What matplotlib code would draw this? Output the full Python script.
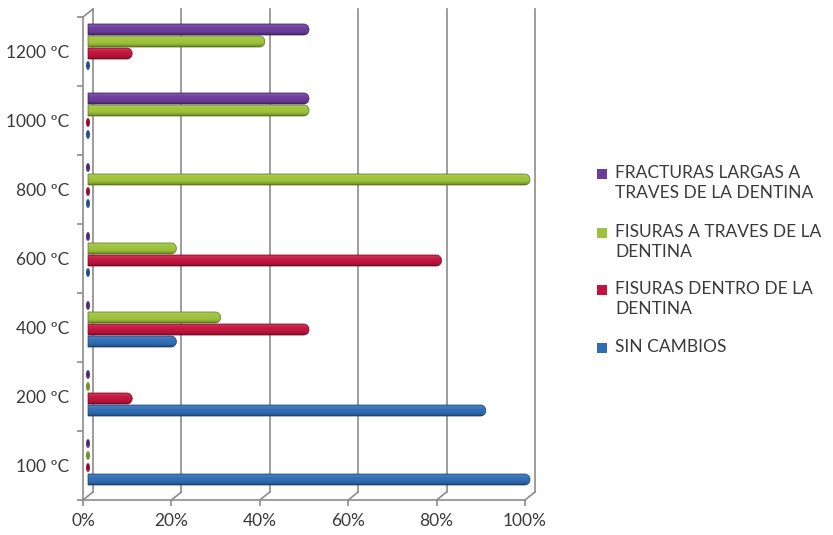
import numpy as np
import matplotlib
matplotlib.use("Agg")
import matplotlib.pyplot as plt
from matplotlib.path import Path
from matplotlib.patches import PathPatch, Ellipse, Rectangle, ConnectionPatch
from matplotlib.transforms import offset_copy
from matplotlib.colors import to_rgb

plt.rcParams['font.family'] = ['Lato', 'DejaVu Sans']

# ---- data -------------------------------------------------------------
categories = ["100 ºC", "200 ºC", "400 ºC", "600 ºC", "800 ºC", "1000 ºC", "1200 ºC"]
series_names = [
    "SIN CAMBIOS",
    "FISURAS DENTRO DE LA\nDENTINA",
    "FISURAS A TRAVES DE LA\nDENTINA",
    "FRACTURAS LARGAS A\nTRAVES DE LA DENTINA",
]
sin_cambios      = [100, 90, 20, 0, 0, 0, 0]
fisuras_dentro   = [0, 10, 50, 80, 0, 0, 10]
fisuras_traves   = [0, 0, 30, 20, 100, 50, 40]
fracturas_largas = [0, 0, 0, 0, 0, 50, 50]
series_values = [sin_cambios, fisuras_dentro, fisuras_traves, fracturas_largas]
series_colors = ["#2F6DB5", "#C3143E", "#9DC23A", "#6A3C9C"]
x_ticks = [0, 20, 40, 60, 80, 100]
x_tick_labels = ["0%", "20%", "40%", "60%", "80%", "100%"]

# ---- figure -----------------------------------------------------------
W, H = 833, 535
fig = plt.figure(figsize=(W / 100, H / 100), dpi=100)
# front frame of the 3-D box
ax = fig.add_axes([83 / W, 35 / H, 442 / W, 483 / H])
ax.set_xlim(0, 100)
ax.set_ylim(-0.5, len(categories) - 0.5)
ax.set_facecolor("none")

grey = "#8C8C8C"
txt = "#3A3A3A"
# depth offsets: bars sit half way into the box, gridlines on the back wall
mid = offset_copy(ax.transData, fig=fig, x=5, y=4, units="dots")
back = offset_copy(ax.transData, fig=fig, x=10, y=8, units="dots")

y0, y1 = -0.5, len(categories) - 0.5

# back wall gridlines and floor bends
for xv in x_ticks:
    ax.plot([xv, xv], [y0, y1], transform=back, color=grey, lw=1.2,
            clip_on=False, zorder=1)
    con = ConnectionPatch(xyA=(xv, y0), coordsA=ax.transData,
                          xyB=(xv, y0), coordsB=back, color=grey, lw=1.2,
                          zorder=1)
    fig.add_artist(con)
# top corner of the left wall
fig.add_artist(ConnectionPatch(xyA=(0, y1), coordsA=ax.transData,
                               xyB=(0, y1), coordsB=back, color=grey, lw=1.2))

# spines / ticks of the front frame
for s in ("top", "right"):
    ax.spines[s].set_visible(False)
for s in ("left", "bottom"):
    ax.spines[s].set_color(grey)
    ax.spines[s].set_linewidth(1.2)

ax.set_xticks(x_ticks)
ax.set_xticklabels(x_tick_labels)
ax.tick_params(axis="x", direction="out", length=4, width=1.2, color=grey,
               labelsize=12.5, labelcolor=txt, pad=5)
ax.set_yticks(range(len(categories)))
ax.set_yticklabels(categories)
ax.set_yticks(np.arange(-0.5, len(categories), 1.0), minor=True)
ax.tick_params(axis="y", which="major", length=0, labelsize=12.5,
               labelcolor=txt, pad=10)
ax.tick_params(axis="y", which="minor", direction="out", length=4, width=1.2,
               color=grey)


def shade(rgb, f):
    rgb = np.asarray(rgb)
    if f <= 1:
        return rgb * f
    return rgb + (1 - rgb) * (f - 1)


# cylinder shading profile from bottom edge (0) to top edge (1)
t = np.linspace(0, 1, 80)
fac = np.interp(t, [0, 0.12, 0.3, 0.65, 0.85, 1.0],
                [0.55, 0.82, 0.97, 1.04, 1.14, 0.95])

n = len(series_values)
slot = 0.174      # spacing between bars within a category
bar_h = 0.16      # drawn thickness
cap_w = 1.2       # half-width of the rounded bar end, in data units

for j, (vals, col) in enumerate(zip(series_values, series_colors)):
    base = np.array(to_rgb(col))
    grad = np.array([shade(base, f) for f in fac])[:, None, :]
    dark = shade(base, 0.6)
    for i, v in enumerate(vals):
        yc = i + (j - (n - 1) / 2) * slot
        b0, b1 = yc - bar_h / 2, yc + bar_h / 2
        if v <= 0:
            ax.add_patch(Ellipse((0, yc), width=0.9, height=bar_h * 0.8,
                                 facecolor=shade(base, 0.75), edgecolor="none",
                                 transform=mid, clip_on=False, zorder=3))
            continue
        # body up to the cap, then a rounded end reaching exactly v
        body = v - cap_w
        ang = np.linspace(-np.pi / 2, np.pi / 2, 30)
        pts = [(0, b0), (body, b0)]
        pts += [(body + cap_w * np.cos(a), yc + bar_h / 2 * np.sin(a)) for a in ang]
        pts += [(body, b1), (0, b1), (0, b0)]
        codes = [Path.MOVETO] + [Path.LINETO] * (len(pts) - 2) + [Path.CLOSEPOLY]
        outline = PathPatch(Path(pts, codes), transform=mid)
        im = ax.imshow(grad, extent=[0, v, b0, b1], origin="lower",
                       aspect="auto", transform=mid, interpolation="bilinear",
                       zorder=3)
        im.set_clip_box(fig.bbox)
        im.set_clip_path(outline)
        ax.add_patch(PathPatch(Path(pts, codes), facecolor="none",
                               edgecolor=dark, lw=0.5, transform=mid,
                               clip_on=False, zorder=4))

ax.set_xlim(0, 100)
ax.set_ylim(y0, y1)

# legend: square marker aligned with the first line of each entry
legend_rows = [174, 233, 290, 348]  # first-line centres, pixels from top
for (name, col), yp in zip(reversed(list(zip(series_names, series_colors))),
                           legend_rows):
    fig.add_artist(Rectangle((597 / W, 1 - (yp + 5) / H), 10 / W, 10 / H,
                             transform=fig.transFigure, facecolor=col,
                             edgecolor="none"))
    fig.text(615 / W, 1 - (yp - 9) / H, name, ha="left", va="top",
             fontsize=12.5, color=txt, linespacing=1.3)

fig.savefig("out.png", dpi=100)
